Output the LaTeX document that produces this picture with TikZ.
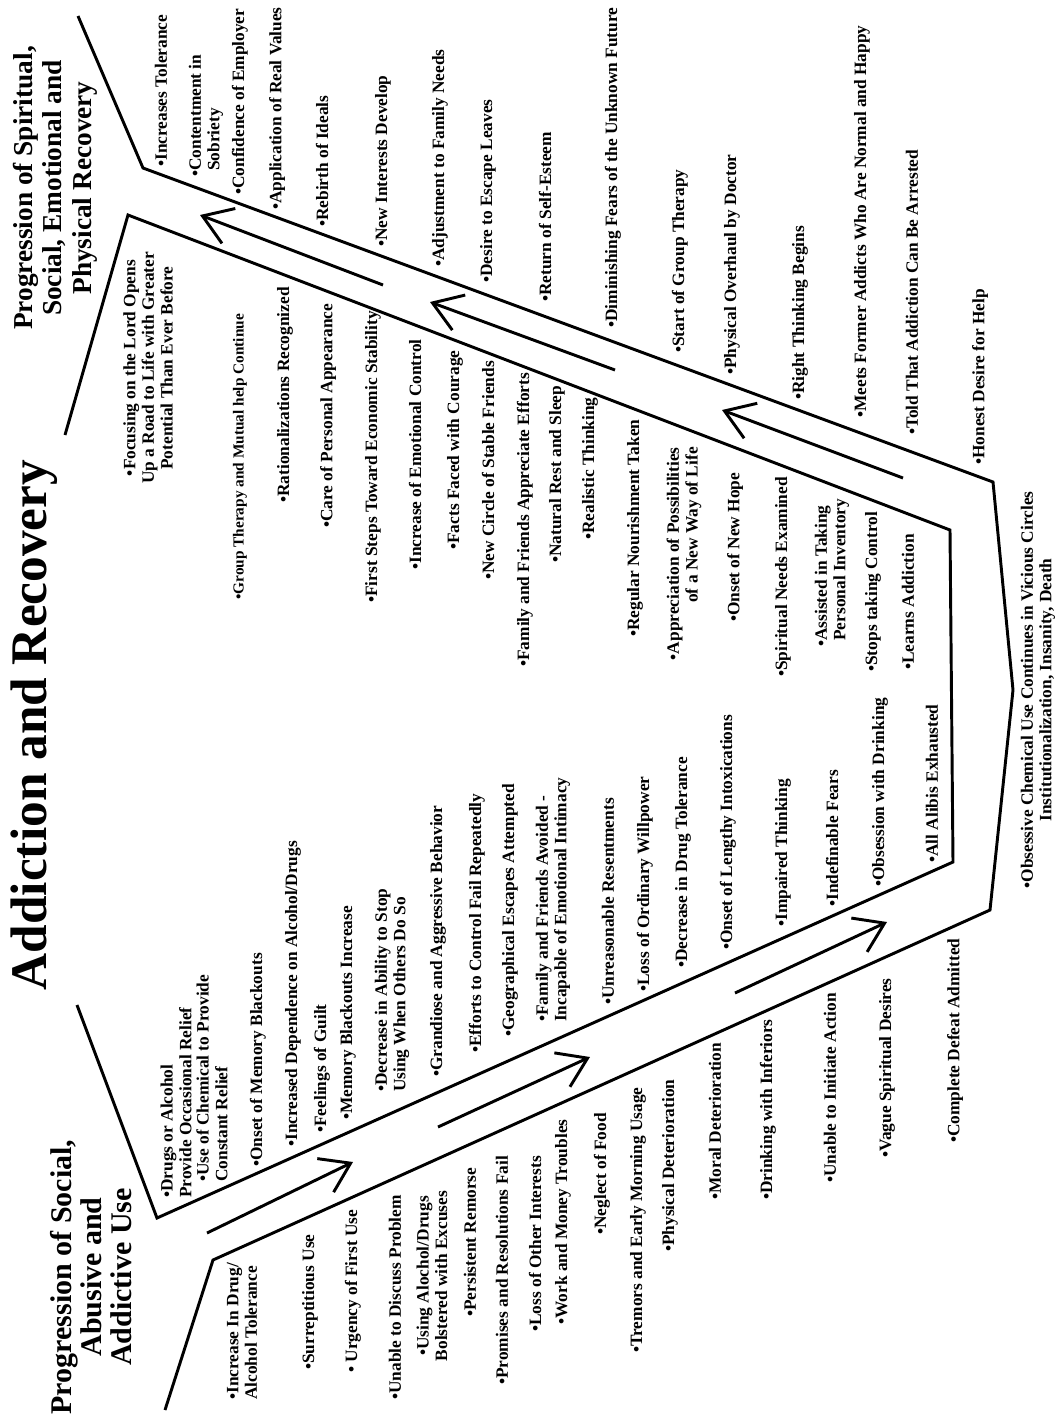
\documentclass[tikz,border=0pt]{standalone}
\usepackage{fontspec}
\setmainfont{Liberation Serif}
\usetikzlibrary{arrows.meta}
\begin{document}
\begin{tikzpicture}[x=0.75pt,y=-0.75pt,
  txt/.style={rotate=90, anchor=west, inner sep=0pt, align=left, font=\bfseries\fontsize{13}{14}\selectfont},
  txtc/.style={txt, anchor=center, align=center},
  txtr/.style={txt, anchor=east, align=right},
  ttl/.style={rotate=90, anchor=center, inner sep=0pt, align=center, font=\bfseries\fontsize{22.5}{22.5}\selectfont},
  bigttl/.style={rotate=90, anchor=base, inner sep=0pt, font=\bfseries\fontsize{38.5}{40}\selectfont},
  bound/.style={line width=2.2pt, line join=miter},
  flow/.style={line width=2.2pt, -{Straight Barb[length=21pt,width=28pt]}}
]
\fill[white] (0,0) rectangle (1058,1422);
\useasboundingbox (0,0) rectangle (1058,1422);

% ---------- outer boundary ----------
\coordinate (o1) at (78,16);
\coordinate (o2) at (143,168);
\coordinate (o3) at (993,482);
\coordinate (o4) at (1013,690);
\coordinate (o5) at (990,910);
\coordinate (o6) at (213,1260);
\coordinate (o7) at (165,1410);
\draw[bound] (o1) -- (o2) -- (o3) -- (o4) -- (o5) -- (o6) -- (o7);

% ---------- inner boundary ----------
\coordinate (i1) at (65,435);
\coordinate (i2) at (128,215);
\coordinate (i3) at (950,530);
\coordinate (i4) at (953,862);
\coordinate (i5) at (157,1218);
\coordinate (i6) at (77,1005);
\draw[bound] (i1) -- (i2) -- (i3) -- (i4) -- (i5) -- (i6);

% ---------- flow arrows ----------
\coordinate (f1s) at (207,1233); \coordinate (f1e) at (353,1162);
\coordinate (f2s) at (438,1127); \coordinate (f2e) at (590,1057);
\coordinate (f3s) at (735,993);  \coordinate (f3e) at (887,922);
\coordinate (f4s) at (903,478);  \coordinate (f4e) at (722,410);
\coordinate (f5s) at (615,370);  \coordinate (f5e) at (430,302);
\coordinate (f6s) at (383,285);  \coordinate (f6e) at (200,215);
\draw[flow] (f1s) -- (f1e);
\draw[flow] (f2s) -- (f2e);
\draw[flow] (f3s) -- (f3e);
\draw[flow] (f4s) -- (f4e);
\draw[flow] (f5s) -- (f5e);
\draw[flow] (f6s) -- (f6e);

% ---------- titles ----------
\node[bigttl] (title) at (46,725) {Addiction and Recovery};
\node[ttl, font=\bfseries\fontsize{20.5}{22}\selectfont] (rectitle) at (55,188) {Progression of Spiritual,\\Social, Emotional and\\Physical Recovery};
\node[ttl] (addtitle) at (91,1277) {Progression of Social,\\Abusive and\\Addictive Use};

% ---------- recovery, outer side ----------
\node[txt] (r1) at (161,167) {•Increases Tolerance};
\node[txt] (r2) at (206,177) {•Contentment in\\\hphantom{•}Sobriety};
\node[txt] (r3) at (240,195) {•Confidence of Employer};
\node[txt] (r4) at (277,210) {•Application of Real Values};
\node[txt] (r5) at (322,227) {•Rebirth of Ideals};
\node[txt] (r6) at (383,247) {•New Interests Develop};
\node[txt] (r7) at (440,267) {•Adjustment to Family Needs};
\node[txt] (r8) at (488,283) {•Desire to Escape Leaves};
\node[txt] (r9) at (545,302) {•Return of Self-Esteem};
\node[txt] (r10) at (613,328) {•Diminishing Fears of the Unknown Future};
\node[txt] (r11) at (680,353) {•Start of Group Therapy};
\node[txt] (r12) at (732,375) {•Physical Overhaul by Doctor};
\node[txt] (r13) at (800,400) {•Right Thinking Begins};
\node[txt] (r14) at (862,418) {•Meets Former Addicts Who Are Normal and Happy};
\node[txt] (r15) at (912,435) {•Told That Addiction Can Be Arrested};
\node[txt] (r16) at (980,465) {•Honest Desire for Help};

% ---------- recovery, inner side ----------
\node[txtc] (s1) at (148,368) {•Focusing on the Lord Opens\\Up a Road to Life with Greater\\Potential Than Ever Before};
\node[txt, font=\bfseries\fontsize{11.5}{13}\selectfont] (s2) at (240,600) {•Group Therapy and Mutual help Continue};
\node[txt] (s3) at (285,503) {•Rationalizations Recognized};
\node[txt] (s4) at (328,528) {•Care of Personal Appearance};
\node[txt] (s5) at (373,603) {•First Steps Toward Economic Stability};
\node[txt] (s6) at (415,570) {•Increase of Emotional Control};
\node[txt] (s7) at (455,550) {•Facts Faced with Courage};
\node[txt] (s8) at (488,580) {•New Circle of Stable Friends};
\node[txt] (s9) at (525,667) {•Family and Friends Appreciate Efforts};
\node[txt] (s10) at (557,563) {•Natural Rest and Sleep};
\node[txt] (s11) at (590,540) {•Realistic Thinking};
\node[txt] (s12) at (635,637) {•Regular Nourishment Taken};
\node[txtr] (s13) at (684,447) {•Appreciation of Possibilities\\of a New Way of Life};
\node[txt] (s14) at (735,622) {•Onset of New Hope};
\node[txt] (s15) at (783,677) {•Spiritual Needs Examined};
\node[txt] (s16) at (832,647) {•Assisted in Taking\\\hphantom{•}Personal Inventory};
\node[txt] (s17) at (873,672) {•Stops taking Control};
\node[txt] (s18) at (908,670) {•Learns Addiction};
\node[txtc] (s19) at (1038,690) {•Obsessive Chemical Use Continues in Vicious Circles\\Institutionalization, Insanity, Death};

% ---------- addiction, inner side ----------
\node[txt] (a1) at (176,1198) {•Drugs or Alcohol\\Provide Occasional Relief};
\node[txt] (a2) at (212,1182) {•Use of Chemical to Provide\\Constant Relief};
\node[txt] (a3) at (258,1167) {•Onset of Memory Blackouts};
\node[txt] (a4) at (293,1147) {•Increased Dependence on Alcohol/Drugs};
\node[txt] (a5) at (322,1133) {•Feelings of Guilt};
\node[txt] (a6) at (348,1120) {•Memory Blackouts Increase};
\node[txt] (a7) at (392,1092) {•Decrease in Ability to Stop\\Using When Others Do So};
\node[txt] (a8) at (438,1077) {•Grandiose and Aggressive Behavior};
\node[txt] (a9) at (477,1053) {•Efforts to Control Fail Repeatedly};
\node[txt] (a10) at (510,1037) {•Geographical Escapes Attempted};
\node[txt] (a11) at (553,1022) {•Family and Friends Avoided -\\Incapable of Emotional Intimacy};
\node[txt] (a12) at (608,1005) {•Unreasonable Resentments};
\node[txt] (a13) at (645,992) {•Loss of Ordinary Willpower};
\node[txt] (a14) at (683,968) {•Decrease in Drug Tolerance};
\node[txt] (a15) at (728,950) {•Onset of Lengthy Intoxications};
\node[txt] (a16) at (783,927) {•Impaired Thinking};
\node[txt] (a17) at (832,907) {•Indefinable Fears};
\node[txt] (a18) at (880,887) {•Obsession with Drinking};
\node[txt] (a19) at (932,863) {•All Alibis Exhausted};

% ---------- addiction, outer side ----------
\node[txt] (b1) at (242,1400) {•Increase In Drug/\\Alcohol Tolerance};
\node[txt] (b2) at (310,1370) {•Surreptitious Use};
\node[txt] (b3) at (353,1373) {• Urgency of First Use};
\node[txt] (b4) at (395,1400) {•Unable to Discuss Problem};
\node[txtc] (b5) at (432,1276) {•Using Alochol/Drugs\\Bolstered with Excuses};
\node[txt] (b6) at (470,1317) {•Persistent Remorse};
\node[txt] (b7) at (502,1385) {•Promises and Resolutions Fail};
\node[txt] (b8) at (535,1332) {•Loss of Other Interests};
\node[txt] (b9) at (563,1325) {•Work and Money Troubles};
\node[txt] (b10) at (602,1235) {•Neglect of Food};
\node[txt] (b11) at (638,1353) {•Tremors and Early Morning Usage};
\node[txt] (b12) at (670,1252) {•Physical Deterioration};
\node[txt] (b13) at (715,1200) {•Moral Deterioration};
\node[txt] (b14) at (768,1200) {•Drinking with Inferiors};
\node[txt] (b15) at (830,1183) {•Unable to Initiate Action};
\node[txt] (b16) at (887,1158) {•Vague Spiritual Desires};
\node[txt] (b17) at (955,1143) {•Complete Defeat Admitted};
\end{tikzpicture}
\end{document}
